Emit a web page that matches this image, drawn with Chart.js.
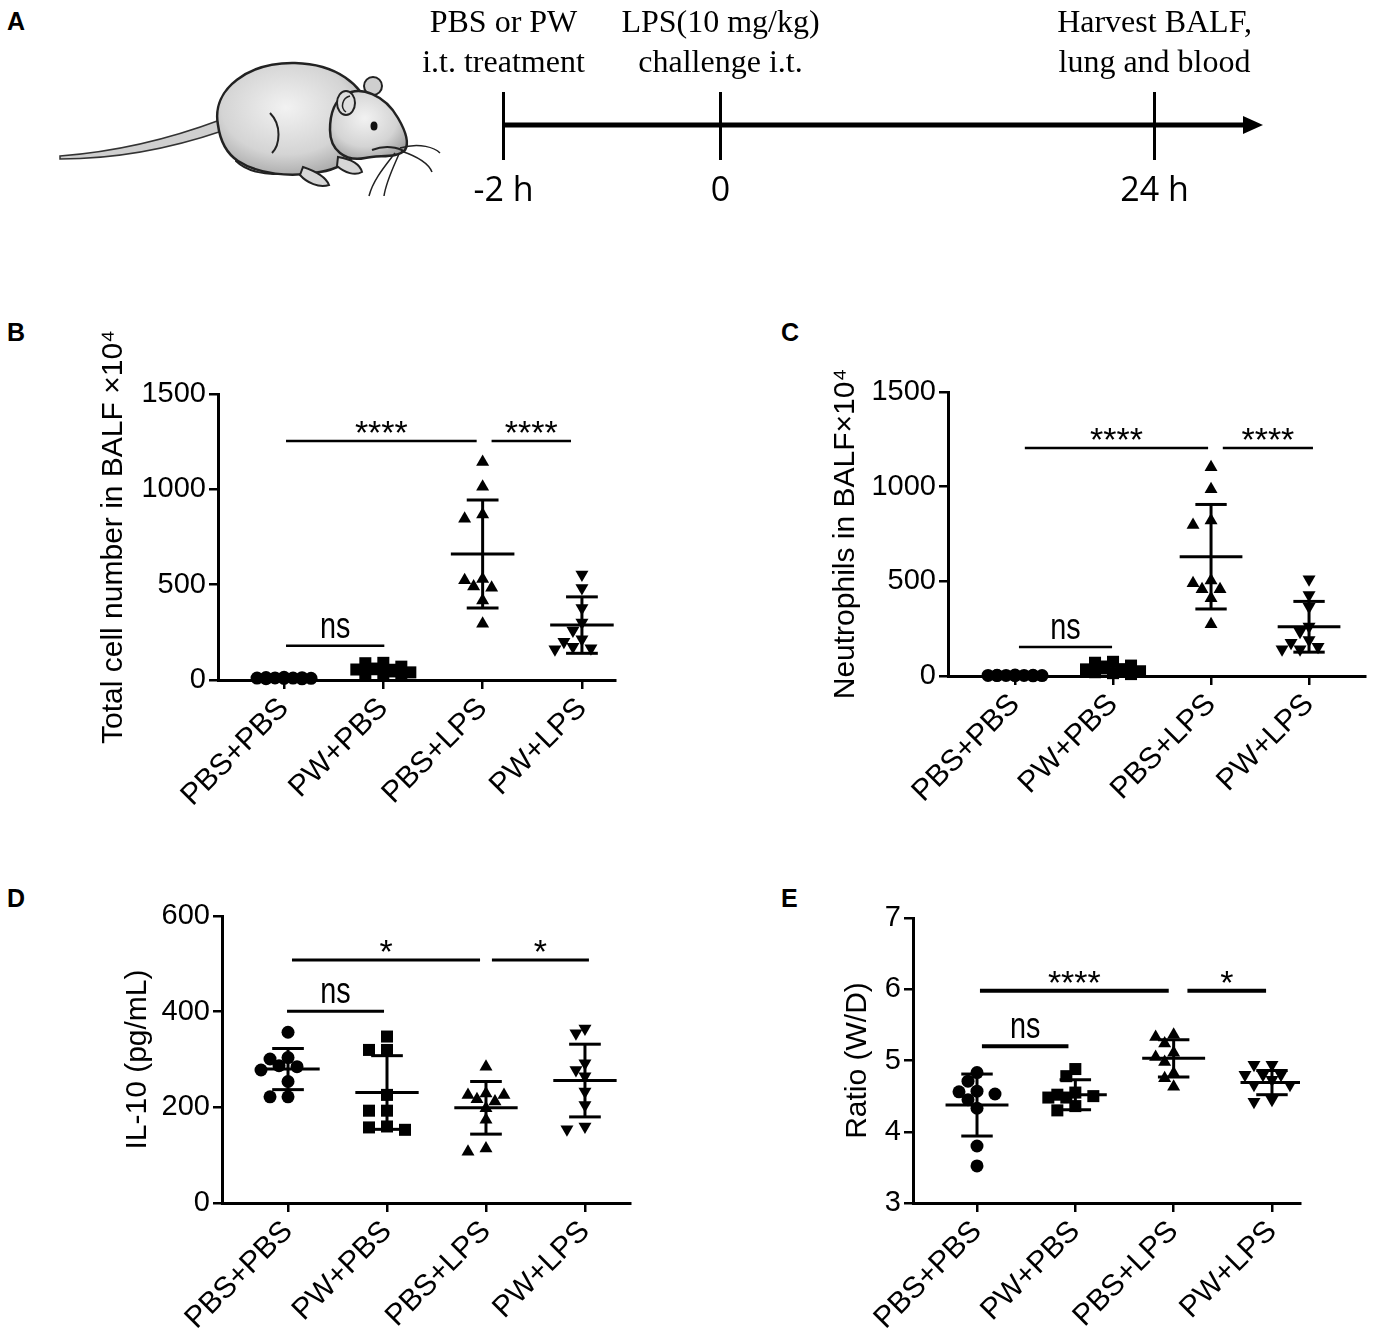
<!DOCTYPE html>
<html>
<head>
<meta charset="utf-8">
<script src="https://cdn.jsdelivr.net/npm/chart.js@4.4.0/dist/chart.umd.min.js"></script>
<style>
html,body{margin:0;padding:0;background:#fff;}
body{width:1379px;height:1339px;position:relative;overflow:hidden;font-family:"Liberation Sans",Arial,sans-serif;}
.box{position:absolute;}
.lbl{position:absolute;font-weight:bold;font-size:25px;color:#000;line-height:1;}
</style>
</head>
<body>
<div class="lbl" style="left:7px;top:9px">A</div>
<div class="lbl" style="left:7px;top:320px">B</div>
<div class="lbl" style="left:781px;top:320px">C</div>
<div class="lbl" style="left:7px;top:886px">D</div>
<div class="lbl" style="left:781px;top:886px">E</div>

<svg class="box" style="left:0;top:0" width="470" height="230" viewBox="0 0 470 230">
  <defs>
    <radialGradient id="fur" cx="0.45" cy="0.4" r="0.7">
      <stop offset="0" stop-color="#f2f2f2"/>
      <stop offset="0.6" stop-color="#d4d4d4"/>
      <stop offset="1" stop-color="#9a9a9a"/>
    </radialGradient>
  </defs>
  <path d="M60 156 Q140 150 220 120 L222 131 Q140 159 60 159 Z" fill="#cfcfcf" stroke="#333" stroke-width="1.5"/>
  <path d="M238 150 C242 160 256 165 274 163 C286 163 292 168 284 173 C266 176 246 171 236 161 Z" fill="#d6d6d6" stroke="#222" stroke-width="2"/>
  <path d="M218 125 C211 88 250 62 295 63 C337 64 362 85 370 110 C374 142 352 167 320 172 C290 178 258 174 238 161 C226 153 220 140 218 125 Z" fill="url(#fur)" stroke="#222" stroke-width="2.5"/>
  <path d="M270 113 C282 125 280 145 272 153" fill="none" stroke="#222" stroke-width="2"/>
  <circle cx="373" cy="86" r="9" fill="#cfcfcf" stroke="#222" stroke-width="2"/>
  <path d="M345 95 C360 85 385 95 398 118 C405 130 410 142 405 150 C398 158 380 155 365 158 C345 162 330 150 330 130 C330 112 336 100 345 95 Z" fill="url(#fur)" stroke="#222" stroke-width="2.5"/>
  <ellipse cx="346" cy="103" rx="9" ry="12" fill="#dedede" stroke="#222" stroke-width="2"/>
  <path d="M350 96 C342 98 340 108 346 112" fill="none" stroke="#222" stroke-width="1.5"/>
  <ellipse cx="374" cy="126" rx="3.5" ry="4.5" fill="#111"/>
  <path d="M372 150 C385 145 398 147 405 152" fill="none" stroke="#222" stroke-width="2"/>
  <path d="M338 157 C350 159 360 164 362 172 C355 176 345 173 337 166 Z" fill="#d6d6d6" stroke="#222" stroke-width="2"/>
  <path d="M303 167 C315 171 326 177 329 185 C319 188 307 183 300 175 Z" fill="#d6d6d6" stroke="#222" stroke-width="2"/>
  <path d="M400 148 C420 142 435 148 440 153" fill="none" stroke="#222" stroke-width="1.5"/>
  <path d="M401 151 C416 156 428 162 432 172" fill="none" stroke="#222" stroke-width="1.5"/>
  <path d="M395 153 C385 166 373 180 369 196" fill="none" stroke="#222" stroke-width="1.5"/>
  <path d="M399 154 C393 168 386 182 384 196" fill="none" stroke="#222" stroke-width="1.5"/>
</svg>

<div class="box" style="left:395px;top:0px;width:868px;height:230px"><canvas id="cA"></canvas></div>
<div class="box" style="left:96px;top:300px;width:529px;height:540px"><canvas id="cB"></canvas></div>
<div class="box" style="left:828px;top:300px;width:547px;height:536px"><canvas id="cC"></canvas></div>
<div class="box" style="left:120px;top:880px;width:520px;height:458px"><canvas id="cD"></canvas></div>
<div class="box" style="left:840px;top:880px;width:470px;height:458px"><canvas id="cE"></canvas></div>

<script>
const FONT = '"Liberation Sans", Arial, sans-serif';

// ---------- Panel A : timeline ----------
const timeLabels = ['-2 h', '0', '', '24 h'];
const eventLabels = [['PBS or PW', 'i.t. treatment'], ['LPS(10 mg/kg)', 'challenge i.t.'], '', ['Harvest BALF,', 'lung and blood']];

// ---------- Shared categories ----------
const groupNames = ['PBS+PBS', 'PW+PBS', 'PBS+LPS', 'PW+LPS'];
const markerStyles = ['circle', 'rect', 'triangle', 'triangle'];
const markerRotation = [0, 0, 0, 180];
const markerRadius = [6.5, 8.5, 7.5, 7.5];

// ---------- Panel B : Total cell number in BALF (x10^4) ----------
const bPbsPbs = [12, 8, 10, 6, 14, 9, 11, 7, 13, 10];
const bPwPbs  = [90, 60, 45, 35, 30, 30, 40, 55, 88, 70];
const bPbsLps = [1144, 1014, 868, 846, 523, 530, 484, 491, 417, 295];
const bPwLps  = [553, 482, 377, 302, 260, 214, 175, 161, 166, 200];
const bMeans  = [10, 55, 661, 288];
const bSds    = [3, 22, 283, 148];
const bYTicks = [0, 500, 1000, 1500];
const bSigFrom = [1.02, 3.09, 1.02];
const bSigTo   = [2.94, 3.89, 2.01];
const bSigY    = [1253, 1253, 179];
const bSigText = ['****', '****', 'ns'];

// ---------- Panel C : Neutrophils in BALF (x10^4) ----------
const cPbsPbs = [3, 2, 4, 1, 5, 2, 3, 4, 2, 3];
const cPwPbs  = [75, 55, 35, 25, 15, 10, 20, 30, 50, 70];
const cPbsLps = [1102, 986, 821, 798, 490, 504, 458, 458, 410, 273];
const cPwLps  = [511, 428, 366, 261, 234, 190, 155, 141, 141, 175];
const cMeans  = [3, 38, 630, 260];
const cSds    = [1.3, 22, 276, 134];
const cYTicks = [0, 500, 1000, 1500];
const cSigFrom = [1.10, 3.12, 1.04];
const cSigTo   = [2.97, 4.04, 1.99];
const cSigY    = [1204, 1204, 153];
const cSigText = ['****', '****', 'ns'];

// ---------- Panel D : IL-10 (pg/mL) ----------
const dPbsPbs = [357, 301, 304, 285, 287, 278, 254, 222, 222];
const dPwPbs  = [348, 320, 320, 226, 193, 193, 160, 153, 158];
const dPbsLps = [285, 229, 226, 212, 217, 226, 198, 174, 107, 114];
const dPwLps  = [365, 355, 292, 278, 265, 233, 205, 154, 160];
const dMeans  = [280, 231, 199, 256];
const dSds    = [43, 77, 55, 76];
const dYTicks = [0, 200, 400, 600];
const dSigFrom = [1.04, 3.06, 0.99];
const dSigTo   = [2.94, 4.04, 1.97];
const dSigY    = [508, 508, 401];
const dSigText = ['*', '*', 'ns'];

// ---------- Panel E : Ratio (W/D) ----------
const ePbsPbs = [4.83, 4.71, 4.57, 4.53, 4.56, 4.45, 4.33, 3.80, 3.52];
const ePwPbs  = [4.88, 4.78, 4.48, 4.52, 4.50, 4.55, 4.48, 4.30, 4.36];
const ePbsLps = [5.36, 5.33, 5.24, 5.05, 5.11, 4.98, 4.82, 4.75, 4.63];
const ePwLps  = [4.94, 4.94, 4.80, 4.80, 4.80, 4.73, 4.66, 4.66, 4.42, 4.45];
const eMeans  = [4.375, 4.52, 5.03, 4.69];
const eSds    = [0.435, 0.21, 0.26, 0.17];
const eYTicks = [3, 4, 5, 6, 7];
const eSigFrom = [1.03, 3.14, 1.05];
const eSigTo   = [2.95, 3.94, 1.93];
const eSigY    = [5.98, 5.98, 5.20];
const eSigText = ['****', '*', 'ns'];

// ---------- Timeline chart ----------
const timelinePlugin = {
  id: 'timeline',
  afterDraw(chart) {
    const {ctx, chartArea: a, scales: {x}} = chart;
    const y0 = a.bottom;
    const xs = x.getPixelForValue(0) - 1.5;
    const xe = a.right;
    ctx.save();
    ctx.strokeStyle = '#000';
    ctx.fillStyle = '#000';
    ctx.lineWidth = 5;
    ctx.beginPath(); ctx.moveTo(xs, y0); ctx.lineTo(xe - 14, y0); ctx.stroke();
    ctx.beginPath(); ctx.moveTo(xe, y0); ctx.lineTo(xe - 20, y0 - 9); ctx.lineTo(xe - 20, y0 + 9); ctx.closePath(); ctx.fill();
    ctx.restore();
  }
};

new Chart(document.getElementById('cA'), {
  type: 'line',
  data: {labels: timeLabels, datasets: []},
  options: {
    responsive: true, maintainAspectRatio: false, animation: false, events: [],
    layout: {padding: 0},
    plugins: {legend: {display: false}, tooltip: {enabled: false}},
    scales: {
      x: {
        type: 'category', position: 'bottom', offset: true,
        afterFit: s => { s.height = 105; },
        grid: {offset: false, drawOnChartArea: true, drawTicks: true, tickLength: 35, lineWidth: 3,
               color: c => (timeLabels[c.index] ? '#000' : 'rgba(0,0,0,0)')},
        border: {display: false},
        ticks: {color: '#000', font: {family: '"Open Sans"', size: 34}, padding: 11, maxRotation: 0, autoSkip: false}
      },
      x2: {
        type: 'category', position: 'top', labels: eventLabels, offset: true,
        afterFit: s => { s.height = 92; },
        grid: {display: false, drawTicks: false}, border: {display: false},
        ticks: {color: '#000', font: {family: '"Liberation Serif"', size: 32, lineHeight: 1.25}, padding: 8, maxRotation: 0, autoSkip: false}
      },
      y: {display: false, min: 0, max: 1}
    }
  },
  plugins: [timelinePlugin]
});

// ---------- Dot plot helpers ----------
function meanSdPlugin(p) {
  return {
    id: 'meanSd',
    afterDatasetsDraw(chart) {
      const {ctx, chartArea: a, scales: {x, y}} = chart;
      ctx.save();
      ctx.beginPath(); ctx.rect(a.left, a.top - 30, a.right - a.left, a.bottom - a.top + 30); ctx.clip();
      ctx.strokeStyle = '#000'; ctx.lineWidth = 3;
      const seg = (x1, y1, x2, y2) => {
        ctx.beginPath();
        ctx.moveTo(x.getPixelForValue(x1), y.getPixelForValue(y1));
        ctx.lineTo(x.getPixelForValue(x2), y.getPixelForValue(y2));
        ctx.stroke();
      };
      p.means.forEach((m, g) => {
        const cx = g + 1, s = p.sds[g];
        seg(cx - 0.32, m, cx + 0.32, m);
        seg(cx, m - s, cx, m + s);
        seg(cx - 0.16, m + s, cx + 0.16, m + s);
        seg(cx - 0.16, m - s, cx + 0.16, m - s);
      });
      ctx.restore();
    }
  };
}

function sigPlugin(p) {
  return {
    id: 'sig',
    afterDraw(chart) {
      const {ctx, scales: {x, y}} = chart;
      p.sigFrom.forEach((f, i) => {
        const x1 = x.getPixelForValue(f), x2 = x.getPixelForValue(p.sigTo[i]);
        const yy = y.getPixelForValue(p.sigY[i]);
        ctx.save();
        ctx.strokeStyle = '#000'; ctx.lineWidth = p.sigWidth;
        ctx.beginPath(); ctx.moveTo(x1, yy); ctx.lineTo(x2, yy); ctx.stroke();
        const t = p.sigText[i], cx = (x1 + x2) / 2;
        ctx.fillStyle = '#000'; ctx.textAlign = 'center'; ctx.textBaseline = 'alphabetic';
        if (t === 'ns') {
          ctx.font = '36px ' + FONT;
          ctx.translate(cx, yy - 8); ctx.scale(0.8, 1);
          ctx.fillText(t, 0, 0);
        } else {
          ctx.font = '34px ' + FONT;
          ctx.fillText(t, cx, yy + 3);
        }
        ctx.restore();
      });
    }
  };
}

function beeswarm(chart, p) {
  const xs = chart.scales.x, ys = chart.scales.y;
  const pxPerUnit = xs.getPixelForValue(2) - xs.getPixelForValue(1);
  const STEP = 9, MIN_DIST = 10, KMAX = 3;
  chart.data.datasets.forEach((ds, g) => {
    const vals = p.groups[g];
    const order = vals.map((v, i) => i).sort((a, b) => vals[b] - vals[a]);
    const placed = [];
    const out = new Array(vals.length);
    order.forEach(i => {
      const py = ys.getPixelForValue(vals[i]);
      let chosen = null, best = -1, bestDx = 0;
      for (let k = 0; k <= 2 * KMAX; k++) {
        const m = Math.ceil(k / 2) * (k % 2 ? -1 : 1);
        const dx = m * STEP;
        let dmin = Infinity;
        placed.forEach(q => { const d = Math.hypot(dx - q.dx, py - q.py); if (d < dmin) dmin = d; });
        if (dmin >= MIN_DIST) { chosen = dx; break; }
        if (dmin > best) { best = dmin; bestDx = dx; }
      }
      if (chosen === null) chosen = bestDx;
      placed.push({dx: chosen, py});
      out[i] = {x: g + 1 + chosen / pxPerUnit, y: vals[i]};
    });
    ds.data = out;
  });
  chart.update('none');
}

function dotPlot(id, p) {
  const datasets = p.groups.map((vals, g) => ({
    label: groupNames[g],
    data: vals.map(v => ({x: g + 1, y: v})),
    pointStyle: markerStyles[g],
    pointRotation: markerRotation[g],
    pointRadius: markerRadius[g],
    pointHoverRadius: markerRadius[g],
    pointBackgroundColor: '#000', pointBorderColor: '#000', pointBorderWidth: 0,
    showLine: false, clip: false
  }));
  const chart = new Chart(document.getElementById(id), {
    type: 'scatter',
    data: {datasets},
    options: {
      responsive: true, maintainAspectRatio: false, animation: false, events: [],
      layout: {padding: {left: 0, top: p.padTop, right: 10, bottom: 0}},
      plugins: {legend: {display: false}, tooltip: {enabled: false}},
      scales: {
        x: {
          type: 'linear', min: p.xMin, max: p.xMax,
          afterBuildTicks: s => { s.ticks = groupNames.map((n, i) => ({value: i + 1})); },
          afterFit: s => { s.height = p.xH; },
          ticks: {callback: (v, i) => groupNames[i], autoSkip: false, maxRotation: 45, minRotation: 45,
                  font: {family: FONT, size: 30}, color: '#000', padding: 2},
          grid: {drawOnChartArea: false, drawTicks: true, tickLength: 9, color: '#000', lineWidth: 2.5},
          border: {display: true, color: '#000', width: 3}
        },
        y: {
          min: p.yTicks[0], max: p.yTicks[p.yTicks.length - 1],
          afterBuildTicks: s => { s.ticks = p.yTicks.map(v => ({value: v})); },
          afterFit: s => { s.width = p.yW; },
          ticks: {callback: v => String(v), font: {family: FONT, size: 29}, color: '#000', padding: 3},
          grid: {drawOnChartArea: false, drawTicks: true, tickLength: 9, color: '#000', lineWidth: 2.5},
          border: {display: true, color: '#000', width: 3},
          title: {display: true, text: p.yTitle, font: {family: FONT, size: 30}, color: '#000', padding: 0}
        }
      }
    },
    plugins: [meanSdPlugin(p), sigPlugin(p)]
  });
  beeswarm(chart, p);
  return chart;
}

dotPlot('cB', {
  groups: [bPbsPbs, bPwPbs, bPbsLps, bPwLps], means: bMeans, sds: bSds, yTicks: bYTicks,
  sigFrom: bSigFrom, sigTo: bSigTo, sigY: bSigY, sigText: bSigText, sigWidth: 2.5,
  yTitle: 'Total cell number in BALF \u00d710\u2074',
  padTop: 94, yW: 122, xH: 160, xMin: 0.335, xMax: 4.333
});
dotPlot('cC', {
  groups: [cPbsPbs, cPwPbs, cPbsLps, cPwLps], means: cMeans, sds: cSds, yTicks: cYTicks,
  sigFrom: cSigFrom, sigTo: cSigTo, sigY: cSigY, sigText: cSigText, sigWidth: 2.5,
  yTitle: 'Neutrophils in BALF\u00d710\u2074',
  padTop: 92, yW: 120, xH: 160, xMin: 0.316, xMax: 4.571
});
dotPlot('cD', {
  groups: [dPbsPbs, dPwPbs, dPbsLps, dPwLps], means: dMeans, sds: dSds, yTicks: dYTicks,
  sigFrom: dSigFrom, sigTo: dSigTo, sigY: dSigY, sigText: dSigText, sigWidth: 3,
  yTitle: 'IL-10 (pg/mL)',
  padTop: 36, yW: 102, xH: 135, xMin: 0.333, xMax: 4.455
});
dotPlot('cE', {
  groups: [ePbsPbs, ePwPbs, ePbsLps, ePwLps], means: eMeans, sds: eSds, yTicks: eYTicks,
  sigFrom: eSigFrom, sigTo: eSigTo, sigY: eSigY, sigText: eSigText, sigWidth: 4,
  yTitle: 'Ratio (W/D)',
  padTop: 38, yW: 73, xH: 135, xMin: 0.349, xMax: 4.285
});
</script>
</body>
</html>
